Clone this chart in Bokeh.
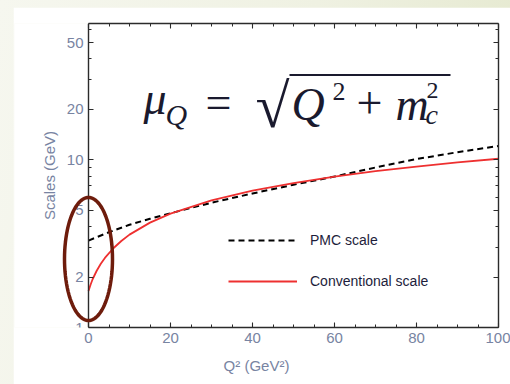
import math
from bokeh.plotting import figure
from bokeh.models import (FixedTicker, LinearAxis, LogAxis, Label, PolyAnnotation,
                          BoxAnnotation, Legend, LegendItem, Range1d)
from bokeh.layouts import column
from bokeh.embed import file_html
from bokeh.resources import INLINE

# ---- data ----
q2_pmc = [0, 5, 10, 15, 20, 30, 40, 50, 60, 70, 80, 90, 100]
pmc_scale = [3.3, 3.7, 4.1, 4.45, 4.8, 5.55, 6.3, 7.1, 7.95, 9.0, 10.1, 11.1, 12.1]

q2_conv = [0, 0.5, 1, 2, 3, 4, 6, 8, 10, 15, 20, 30, 40, 50, 60, 70, 80, 90, 100]
conv_scale = [1.65, 1.8, 1.94, 2.18, 2.4, 2.6, 2.96, 3.28, 3.58, 4.22, 4.78, 5.73,
              6.55, 7.27, 7.93, 8.55, 9.12, 9.66, 10.15]

x_ticks = [0, 20, 40, 60, 80, 100]
x_minor = [5, 10, 15, 25, 30, 35, 45, 50, 55, 65, 70, 75, 85, 90, 95]
y_ticks = [1, 2, 5, 10, 20, 50]
y_minor = [3, 4, 6, 7, 8, 9, 30, 40, 60]

X0, X1 = 0, 100
Y0, Y1 = 1, 65
# page-pixel position of the axes box (x=0 .. 100, y=1 .. 65)
AL, AR, AT, AB = 88, 498, 23, 327
FRAME_LEFT = 14  # frame extended to the left so the highlight ellipse is not clipped


def dx(px):
    return X0 + (px - AL) / (AR - AL) * (X1 - X0)


def dy(py):
    l0, l1 = math.log10(Y0), math.log10(Y1)
    return 10 ** (l0 + (AB - py) / (AB - AT) * (l1 - l0))


OX, OY = 13, 7  # offset of white panel
W, H = 510 - OX, 384 - OY

p = figure(width=W, height=H, x_range=Range1d(dx(FRAME_LEFT), X1), y_range=Range1d(Y0, Y1),
           y_axis_type="log", y_axis_location=None, x_axis_location=None,
           output_backend="svg", toolbar_location=None,
           min_border_left=FRAME_LEFT - OX, min_border_right=W - (AR - OX),
           min_border_top=AT - OY, min_border_bottom=H - (AB - OY),
           background_fill_color="white", border_fill_color="white",
           outline_line_color=None, margin=(OY, 0, 0, OX))
p.xgrid.visible = False
p.ygrid.visible = False

LABEL_COL = "#7884a2"
AX_COL = "#2b2b2b"


def style_axis(ax, ticks, minor, labels=True):
    ax.ticker = FixedTicker(ticks=ticks, minor_ticks=minor)
    ax.major_tick_in = 5
    ax.major_tick_out = 0
    ax.minor_tick_in = 3
    ax.minor_tick_out = 0
    ax.axis_line_color = AX_COL
    ax.axis_line_width = 1.4
    ax.major_tick_line_color = AX_COL
    ax.minor_tick_line_color = AX_COL
    ax.major_tick_line_width = 1.1
    ax.minor_tick_line_width = 1.0
    ax.major_label_text_font = "Liberation Sans"
    ax.major_label_text_font_size = "15px"
    ax.major_label_text_color = LABEL_COL
    ax.major_label_standoff = 5
    ax.axis_label_text_font = "Liberation Sans"
    ax.axis_label_text_font_size = "15px"
    ax.axis_label_text_font_style = "normal"
    ax.axis_label_text_color = LABEL_COL
    if not labels:
        ax.major_label_overrides = {t: "" for t in ticks}


bottom_ax = LinearAxis(bounds=(X0, X1), axis_label="Q² (GeV²)", axis_label_standoff=11)
style_axis(bottom_ax, x_ticks, x_minor)
p.add_layout(bottom_ax, "below")

top_ax = LinearAxis(bounds=(X0, X1))
style_axis(top_ax, x_ticks, x_minor, labels=False)
p.add_layout(top_ax, "above")

left_ax = LogAxis(fixed_location=X0, axis_label="Scales (GeV)", axis_label_standoff=6)
style_axis(left_ax, y_ticks, y_minor)
p.add_layout(left_ax, "left")

right_ax = LogAxis()
style_axis(right_ax, y_ticks, y_minor, labels=False)
p.add_layout(right_ax, "right")

# ---- curves ----
r_pmc = p.line(q2_pmc, pmc_scale, line_color="black", line_width=2, line_dash="6 4")
r_conv = p.line(q2_conv, conv_scale, line_color="#ee3030", line_width=1.8)

legend = Legend(items=[LegendItem(label="PMC scale", renderers=[r_pmc]),
                       LegendItem(label="Conventional scale", renderers=[r_conv])],
                location=(228 - FRAME_LEFT, 36), glyph_width=69, glyph_height=20,
                label_height=20, label_standoff=13, spacing=21, padding=0, margin=0,
                border_line_color=None, background_fill_alpha=0,
                label_text_font="Liberation Sans", label_text_font_size="14px",
                label_text_color="#1d1d3b", label_text_baseline="middle")
p.add_layout(legend)

# ---- formula  mu_Q = sqrt(Q^2 + m_c^2) ----
SERIF = "Liberation Serif"
F_COL = "#1a1a2e"
SHIFT = 0.35  # baseline correction, as a fraction of the font size


def lab(px, py, text, size, italic=False):
    p.add_layout(Label(x=dx(px), y=dy(py - SHIFT * size), text=text, text_font=SERIF,
                       text_font_size=f"{size}px",
                       text_font_style="italic" if italic else "normal",
                       text_color=F_COL, text_align="left",
                       text_baseline="alphabetic"))


lab(143, 114, "μ", 46, True)
lab(165, 124, "Q", 30, True)
lab(205, 118, "=", 46)
lab(255, 127, "√", 62)
lab(291, 120, "Q", 46, True)
lab(332, 100, "2", 26)
lab(356, 118, "+", 46)
lab(395, 120, "m", 46, True)
lab(426, 98, "2", 24)
lab(425, 124, "c", 28, True)
p.add_layout(BoxAnnotation(left=dx(289), right=dx(450), top=dy(73.5), bottom=dy(75.5),
                           fill_color=F_COL, fill_alpha=1, line_color=None))

# ---- highlight ellipse ----
cx, cy, ax_, ay_ = 88, 258.5, 24, 61.5
n = 90
ell_x = [dx(cx + ax_ * math.cos(2 * math.pi * i / n)) for i in range(n)]
ell_y = [dy(cy + ay_ * math.sin(2 * math.pi * i / n)) for i in range(n)]
p.add_layout(PolyAnnotation(xs=ell_x, ys=ell_y, fill_alpha=0, line_color="#6e1c0c",
                            line_alpha=1, line_width=3.5, level="overlay"))

layout = column(p, width=510, height=384,
                styles={"background": "linear-gradient(100deg, #f6f7ef 0%, #eff1e2 55%, #e4e8cd 100%)"})

open("out.html", "w").write(file_html(layout, INLINE))
